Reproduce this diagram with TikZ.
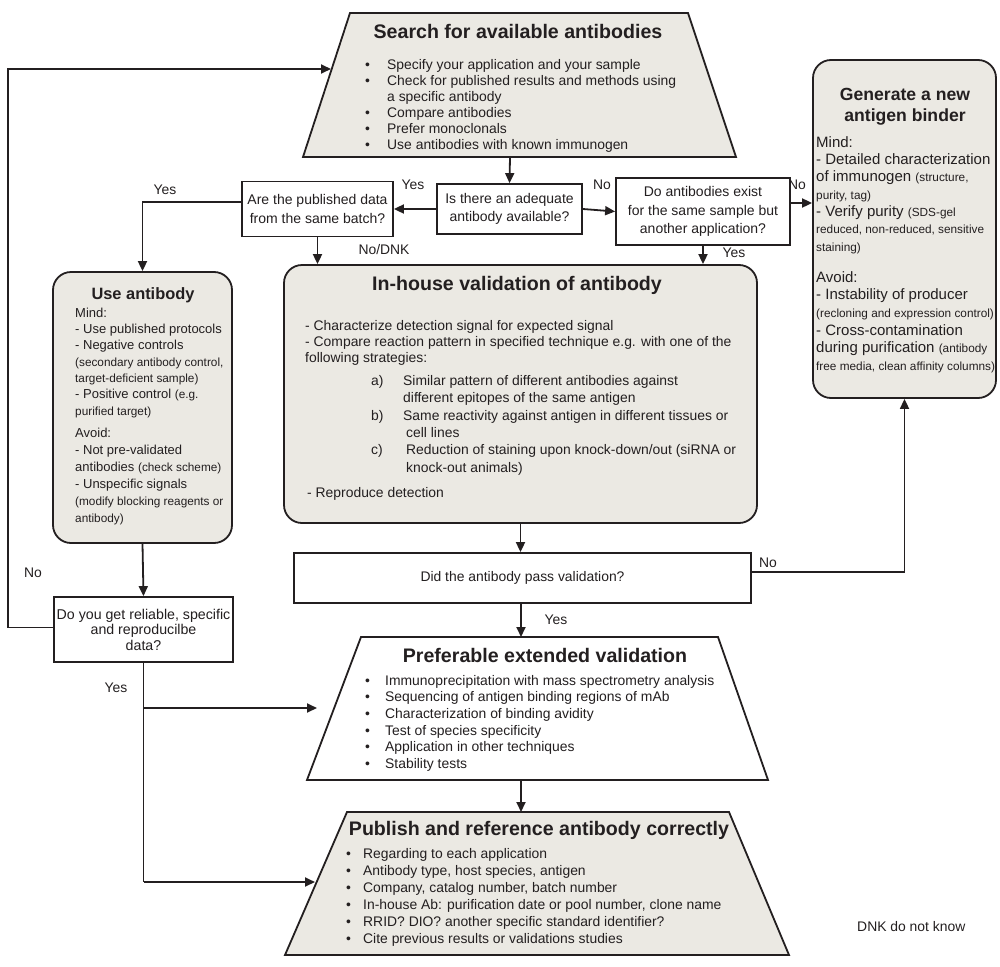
\documentclass[tikz,border=0pt]{standalone}
\usepackage{fontspec}
\setmainfont{Liberation Sans}
\usetikzlibrary{arrows.meta}
\definecolor{boxfill}{RGB}{235,233,227}
\definecolor{ink}{RGB}{35,31,32}
\newcommand\fsz[2]{\fontsize{#1}{#2}\selectfont}
\newcommand\sm[1]{{\fontsize{11.8}{13}\selectfont #1}}
\newcommand\bul[1]{\makebox[#1][l]{•}}
\begin{document}
\begin{tikzpicture}[x=1pt,y=-1pt,
  every node/.style={text=ink},
  shp/.style={draw=ink,line width=1.8pt,line join=miter},
  arr/.style={draw=ink,line width=1.8pt,-{Triangle[length=10pt,width=9pt]}},
  ln/.style={draw=ink,line width=1.8pt},
  qbox/.style={draw=ink,line width=1.8pt,fill=white,inner sep=0pt,align=center,font=\fsz{14}{18.5}},
  rbox/.style={draw=ink,line width=1.8pt,fill=boxfill,rounded corners=18pt,inner sep=0pt},
  ttl/.style={inner sep=0pt,anchor=base,font=\bfseries\fsz{19.6}{22}},
  txt/.style={inner sep=0pt,anchor=north west,align=left},
  lbl/.style={inner sep=0pt,font=\fsz{13.9}{16}}
]
\useasboundingbox (0,0) rectangle (1000,966);

% ---------- top trapezoid ----------
\coordinate (s1) at (350,13);
\coordinate (s2) at (688,13);
\coordinate (s3) at (736,157);
\coordinate (s4) at (303,157);
\draw[shp,fill=boxfill] (s1)--(s2)--(s3)--(s4)--cycle;
\coordinate (sbot) at (510,157);
\coordinate (sin) at (331,69);
\node[ttl] (stitle) at (518,39) {Search for available antibodies};
\node[txt,font=\fsz{13.9}{16}] (slist) at (365,58) {\rule{0pt}{11pt}\bul{22pt}Specify your application and your sample\\
\bul{22pt}Check for published results and methods using\\
\hspace*{22pt}a specific antibody\\
\bul{22pt}Compare antibodies\\
\bul{22pt}Prefer monoclonals\\
\bul{22pt}Use antibodies with known immunogen};

% ---------- decision boxes ----------
\node[qbox,minimum width=151pt,minimum height=55pt] (A) at (317.5,209) {Are the published data\\from the same batch?};
\node[qbox,minimum width=145pt,minimum height=50pt] (B) at (509.5,209) {Is there an adequate\\antibody available?};
\node[qbox,minimum width=174pt,minimum height=67pt] (C) at (703,211.5) {Do antibodies exist\\for the same sample but\\another application?};

% ---------- generate new binder ----------
\node[rbox,minimum width=183pt,minimum height=338pt] (gen) at (904.5,229) {};
\node[inner sep=0pt,anchor=north,align=center,font=\bfseries\fsz{17.6}{21}] (gtitle) at (905,86) {\rule{0pt}{14pt}Generate a new\\antigen binder};
\node[txt,font=\fsz{15}{17.3}] (gmind) at (816,135) {\rule{0pt}{12pt}Mind:\\
- Detailed characterization\\
of immunogen \sm{(structure,}\\
\sm{purity, tag)}\\
- Verify purity \sm{(SDS-gel}\\
\sm{reduced, non-reduced, sensitive}\\
\sm{staining)}};
\node[txt,font=\fsz{15}{17.6}] (gavoid) at (816,270) {\rule{0pt}{12pt}Avoid:\\
- Instability of producer\\
\sm{(recloning and expression control)}\\
- Cross-contamination\\
during purification \sm{(antibody}\\
\sm{free media, clean affinity columns)}};

% ---------- use antibody ----------
\node[rbox,minimum width=179pt,minimum height=271pt] (use) at (142.5,407.5) {};
\node[ttl,font=\bfseries\fsz{16.4}{20}] (utitle) at (143,299) {Use antibody};
\node[txt,font=\fsz{13}{16.3}] (umind) at (75,306) {\rule{0pt}{11pt}Mind:\\
- Use published protocols\\
- Negative controls\\
\sm{(secondary antibody control,}\\
\sm{target-deficient sample)}\\
- Positive control \sm{(e.g.}\\
\sm{purified target)}};
\node[txt,font=\fsz{13}{17}] (uavoid) at (75,426) {\rule{0pt}{11pt}Avoid:\\
- Not pre-validated\\
antibodies \sm{(check scheme)}\\
- Unspecific signals\\
\sm{(modify blocking reagents or}\\
\sm{antibody)}};

% ---------- in-house validation ----------
\node[rbox,minimum width=473pt,minimum height=258pt] (inh) at (520.5,394) {};
\node[ttl] (ititle) at (517,290) {In-house validation of antibody};
\node[txt,font=\fsz{13.9}{16}] (itext) at (305,319) {\rule{0pt}{11pt}- Characterize detection signal for expected signal\\
- Compare reaction pattern in specified technique e.g. with one of the\\
following strategies:};
\node[txt,font=\fsz{13.9}{17.4}] (ilist) at (371,374) {\rule{0pt}{11pt}\makebox[32pt][l]{a)}Similar pattern of different antibodies against\\
\hspace*{32pt}different epitopes of the same antigen\\
\makebox[32pt][l]{b)}Same reactivity against antigen in different tissues or\\
\hspace*{35pt}cell lines\\
\makebox[35pt][l]{c)}Reduction of staining upon knock-down/out (siRNA or\\
\hspace*{35pt}knock-out animals)};
\node[txt,font=\fsz{13.9}{16}] (irep) at (307,486) {\rule{0pt}{11pt}- Reproduce detection};

% ---------- pass validation ----------
\node[qbox,font=\fsz{13.9}{16},minimum width=457pt,minimum height=50pt] (pass) at (522.5,578) {Did the antibody pass validation?};

% ---------- reliable data ----------
\node[qbox,font=\fsz{14.2}{15.5},minimum width=179pt,minimum height=65pt] (D) at (143.5,629.5) {Do you get reliable, specific\\and reproducilbe\\data?};

% ---------- extended validation ----------
\coordinate (e1) at (361,637);
\coordinate (e2) at (718,637);
\coordinate (e3) at (768,780);
\coordinate (e4) at (307,780);
\draw[shp,fill=white] (e1)--(e2)--(e3)--(e4)--cycle;
\coordinate (etop) at (521,637);
\coordinate (ebot) at (521,780);
\coordinate (ein) at (317,708);
\node[ttl] (etitle) at (545,662) {Preferable extended validation};
\node[txt,font=\fsz{13.9}{16.6}] (elist) at (365,674) {\rule{0pt}{11pt}\bul{20pt}Immunoprecipitation with mass spectrometry analysis\\
\bul{20pt}Sequencing of antigen binding regions of mAb\\
\bul{20pt}Characterization of binding avidity\\
\bul{20pt}Test of species specificity\\
\bul{20pt}Application in other techniques\\
\bul{20pt}Stability tests};

% ---------- publish ----------
\coordinate (p1) at (347,812);
\coordinate (p2) at (729,812);
\coordinate (p3) at (789,955);
\coordinate (p4) at (285,955);
\draw[shp,fill=boxfill] (p1)--(p2)--(p3)--(p4)--cycle;
\coordinate (ptop) at (521,812);
\coordinate (pin) at (315,882);
\node[ttl] (ptitle) at (539,835) {Publish and reference antibody correctly};
\node[txt,font=\fsz{13.9}{17}] (plist) at (346,847) {\rule{0pt}{11pt}\bul{17pt}Regarding to each application\\
\bul{17pt}Antibody type, host species, antigen\\
\bul{17pt}Company, catalog number, batch number\\
\bul{17pt}In-house Ab: purification date or pool number, clone name\\
\bul{17pt}RRID? DIO? another specific standard identifier?\\
\bul{17pt}Cite previous results or validations studies};

% ---------- connectors ----------
\draw[arr] (sbot) -- (B.north);
\draw[arr] (B.west) -- (A.east);
\draw[arr] (B.east) -- (C.west);
\draw[arr] ([yshift=8.5pt]C.east) -- ([yshift=8.5pt]C.east -| gen.west);
\draw[arr] ([yshift=7pt]A.west) -| (use.north);
\draw[arr] (A.south) -- (A.south |- inh.north);
\draw[arr] (C.south) -- (C.south |- inh.north);
\draw[arr] (inh.south) -- (inh.south |- pass.north);
\draw[arr] ([yshift=6pt]pass.east) -| (gen.south);
\draw[arr] (pass.south -| etop) -- (etop);
\draw[arr] (ebot) -- (ptop);
\draw[arr] (use.south) -- (D.north);
\draw[arr] ([yshift=2pt]D.west) -- ++(-45,0) |- (sin);
\draw[ln] (D.south) -- (D.south |- pin);
\draw[arr] (D.south |- ein) -- (ein);
\draw[arr] (D.south |- pin) -- (pin);

% ---------- labels ----------
\node[lbl] (l1) at (165,190) {Yes};
\node[lbl] (l2) at (413,185) {Yes};
\node[lbl] (l3) at (602,185) {No};
\node[lbl] (l4) at (797,185) {No};
\node[lbl] (l5) at (384,250) {No/DNK};
\node[lbl] (l6) at (734,253) {Yes};
\node[lbl] (l7) at (768,563) {No};
\node[lbl] (l8) at (556,620) {Yes};
\node[lbl] (l9) at (33,573) {No};
\node[lbl] (l10) at (116,688) {Yes};
\node[lbl,anchor=west] (dnk) at (857,927) {DNK do not know};
\end{tikzpicture}
\end{document}
